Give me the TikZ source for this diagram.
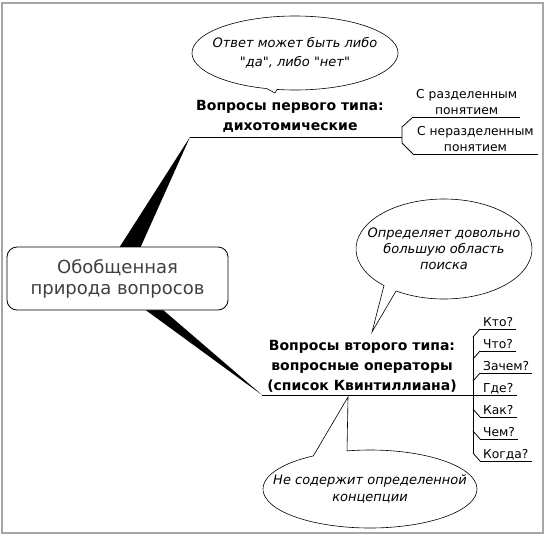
\documentclass[tikz,border=0pt]{standalone}
\usepackage{fontspec}
\setmainfont{DejaVu Sans}[Ligatures=TeXOff]
\usetikzlibrary{backgrounds,calc}

\begin{document}
\begin{tikzpicture}[x=1pt, y=-1pt,
    % Styles
    rootbox/.style={
        draw, line width=0.8pt, rounded corners=10pt, fill=white,
        minimum width=221pt, minimum height=63pt, align=center,
        font=\fontsize{18}{21}\selectfont, text=black!75,
    },
    topic/.style={align=center, font=\fontsize{14}{20}\selectfont\bfseries},
    leaf/.style={
        align=center, font=\fontsize{12.3}{16}\selectfont,
        inner xsep=3pt, inner ysep=0.5pt, text depth=2pt,
    },
    bubble/.style={draw, line width=0.6pt, fill=white},
    notetext/.style={align=center, font=\fontsize{13}{17}\selectfont\itshape},
    link/.style={line width=0.8pt},
    spoke/.style={fill=black},
]
\useasboundingbox (0,0) rectangle (546,536);

% ================================================================
% ROOT
% ================================================================
\node[rootbox] (root) at (117.5,278.5) {Обобщенная\\природа вопросов};

\coordinate (tip1) at (190,137);
\coordinate (tip2) at (262,395);
\coordinate (fork1) at (402,137);

\begin{scope}[on background layer]
    \draw[gray!70, line width=1.5pt] (2,3) rectangle (543,533);
    \fill[spoke] ($(root.center)+(-18,0)$) -- (tip1) -- ($(root.center)+(9,0)$) -- cycle;
    \fill[spoke] ($(root.center)+(-15,0)$) -- (tip2) -- ($(root.center)+(9,0)$) -- cycle;
\end{scope}

% ================================================================
% BRANCH 1: DICHOTOMOUS
% ================================================================
\node[topic] (first) at (290,116) {Вопросы первого типа:\\дихотомические};

\node[leaf, anchor=south west] (split) at (413,117) {С разделенным\\понятием};
\node[leaf, anchor=south west, inner xsep=4pt] (nosplit) at (413,154)
    {С неразделенным\\понятием};

\draw[link] (tip1) -- (fork1);
\draw[link] (split.south west) -- (split.south east);
\draw[link] (nosplit.south west) -- (nosplit.south east);
\draw[link] (split.south west) -- ++(-11,10) -- ($(nosplit.south west)+(-11,-11)$)
    -- (nosplit.south west);

% callout: yes / no
\coordinate (tipA) at (275,93);
\node[notetext, font=\fontsize{13}{19}\selectfont\itshape] (yesno) at (295,53)
    {Ответ может быть либо\\"да", либо "нет"};
\begin{scope}[on background layer]
    \draw[bubble] ($(yesno.center)+(106:103 and 37)$)
        arc[start angle=106, end angle=460, x radius=103, y radius=37]
        -- (tipA) -- cycle;
\end{scope}

% ================================================================
% BRANCH 2: QUESTION OPERATORS
% ================================================================
\node[topic] (second) at (362,366)
    {Вопросы второго типа:\\вопросные операторы\\(список Квинтиллиана)};

\foreach \w [count=\i] in {Кто?,Что?,Зачем?,Где?,Как?,Чем?,Когда?} {
    \node[leaf, anchor=south west] (op\i) at (480,307+22*\i) {\w};
    \draw[link] (op\i.south west) -- (op\i.south east);
}
\draw[link] (tip2) -- (op4.south west);
\draw[link] ($(op1.south west)+(-7,8)$) -- ($(op7.south west)+(-7,-8)$);
\foreach \i in {1,2,3} \draw[link] (op\i.south west) -- ++(-7,8);
\foreach \i in {5,6,7} \draw[link] (op\i.south west) -- ++(-7,-8);

% callout: search area
\coordinate (tipB) at (372,332);
\node[notetext, font=\fontsize{13}{16}\selectfont\itshape] (area) at (444,249)
    {Определяет довольно\\большую область\\поиска};
\begin{scope}[on background layer]
    \draw[bubble] ($(area.center)+(133:88 and 50)$)
        arc[start angle=133, end angle=483, x radius=88, y radius=50]
        -- (tipB) -- cycle;
\end{scope}

% callout: no concept
\coordinate (tipC) at (348,397);
\node[notetext] (concept) at (370,489) {Не содержит определенной\\концепции};
\begin{scope}[on background layer]
    \draw[bubble] ($(concept.center)+(257.6:107 and 39)$)
        arc[start angle=257.6, end angle=598, x radius=107, y radius=39]
        -- (tipC) -- cycle;
\end{scope}

\end{tikzpicture}
\end{document}
